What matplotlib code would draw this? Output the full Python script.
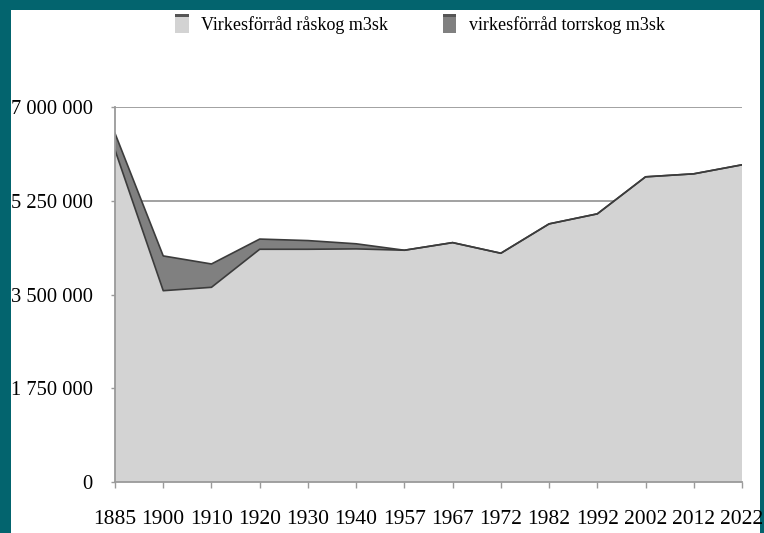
import matplotlib
matplotlib.use("Agg")
import matplotlib.pyplot as plt
from matplotlib.patches import Rectangle, Patch
from matplotlib.ticker import FuncFormatter

# data (m3sk)
years = ["1885", "1900", "1910", "1920", "1930", "1940", "1957",
         "1967", "1972", "1982", "1992", "2002", "2012", "2022"]
raskog = [6193000, 3571000, 3634000, 4343000, 4343000, 4350000, 4325000,
          4467000, 4269000, 4816000, 5003000, 5693000, 5749000, 5917000]
torrskog = [311000, 648000, 435000, 190000, 162000, 95000, 0,
            0, 0, 0, 0, 0, 0, 0]
yticks = [0, 1750000, 3500000, 5250000, 7000000]

teal = "#03646E"
light = "#D3D3D3"
dark = "#808080"
line = "#3C3C3C"
axis_gray = "#9A9A9A"

plt.rcParams["font.family"] = ["Liberation Serif", "DejaVu Serif"]


class SwatchHandler:
    # legend swatch: filled box with a darker strip on top, like the original
    def legend_artist(self, legend, orig_handle, fontsize, handlebox):
        x0, y0 = -handlebox.xdescent, -handlebox.ydescent
        w, h = handlebox.width, handlebox.height
        box = Rectangle((x0, y0), w, h, facecolor=orig_handle.get_facecolor(),
                        edgecolor="none", transform=handlebox.get_transform())
        top = Rectangle((x0, y0 + h * 0.85), w, h * 0.15, facecolor="#555555",
                        edgecolor="none", transform=handlebox.get_transform())
        handlebox.add_artist(box)
        handlebox.add_artist(top)
        return box


fig = plt.figure(figsize=(7.64, 5.33), dpi=100, facecolor=teal)
# white panel inside the teal frame (open at the bottom)
fig.patches.append(Rectangle((11 / 764, 0), (760 - 11) / 764, (533 - 10) / 533,
                             transform=fig.transFigure, facecolor="white",
                             edgecolor="none", zorder=-5))

ax = fig.add_axes([115 / 764, 50.7 / 533, 627 / 764, 375.6 / 533])
ax.set_facecolor("none")

x = list(range(len(years)))
total = [r + t for r, t in zip(raskog, torrskog)]

ax.fill_between(x, 0, raskog, facecolor=light, edgecolor="none", zorder=2)
ax.fill_between(x, raskog, total, facecolor=dark, edgecolor="none", zorder=2)
ax.plot(x, raskog, color=line, lw=1.2, zorder=3)
ax.plot(x, total, color=line, lw=1.2, zorder=3)

ax.set_xlim(0, len(years) - 1)
ax.set_ylim(0, 7000000)
ax.set_xticks(x)
ax.set_xticklabels(years)
ax.set_yticks(yticks)
ax.yaxis.set_major_formatter(FuncFormatter(lambda v, p: f"{int(v):,}".replace(",", " ")))

ax.grid(axis="y", color=axis_gray, lw=1.3, zorder=1)
ax.set_axisbelow(True)
for s in ["top", "right"]:
    ax.spines[s].set_visible(False)
for s in ["left", "bottom"]:
    ax.spines[s].set_color(axis_gray)
    ax.spines[s].set_linewidth(1.3)
    ax.spines[s].set_zorder(4)

ax.tick_params(axis="x", direction="out", length=4, width=1, color=axis_gray,
               labelsize=15.5, pad=16, labelcolor="black")
ax.tick_params(axis="y", direction="out", length=3, width=1, color=axis_gray,
               labelsize=14.8, pad=13, labelcolor="black")

handles = [Patch(facecolor=light), Patch(facecolor=dark)]
fig.legend(handles, ["Virkesförråd råskog m3sk", "virkesförråd torrskog m3sk"],
           loc="center", bbox_to_anchor=(420 / 764, 1 - 24 / 533), ncol=2,
           frameon=False, fontsize=13, handlelength=0.75, handleheight=1.2,
           handletextpad=0.7, columnspacing=3.0,
           handler_map={Patch: SwatchHandler()})

fig.savefig("out.png", dpi=100, facecolor=teal)
